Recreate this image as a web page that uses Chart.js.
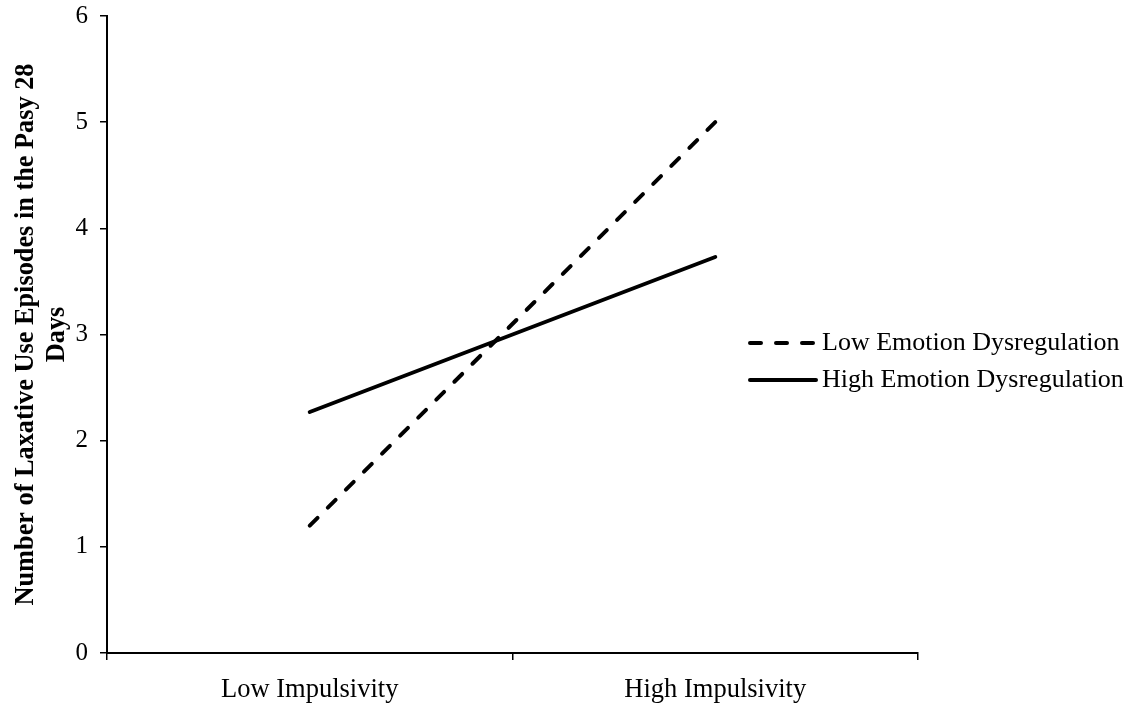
<!DOCTYPE html>
<html>
<head>
<meta charset="utf-8">
<script src="https://cdn.jsdelivr.net/npm/chart.js@4.4.0/dist/chart.umd.min.js"></script>
<style>
  html, body { margin: 0; padding: 0; background: #fff; }
</style>
</head>
<body>
<canvas id="chart" width="1141" height="713"></canvas>
<script>
// values
const categories = ["Low Impulsivity", "High Impulsivity"];
const lowEmotion = [1.2, 5.0];
const highEmotion = [2.27, 3.73];
const seriesNames = ["Low Emotion Dysregulation", "High Emotion Dysregulation"];
const yTitle = ["Number of Laxative Use Episodes in the Pasy 28", "Days"];
const yMin = 0, yMax = 6, yStep = 1;

const serif = "'Liberation Serif', 'Times New Roman', serif";

// legend drawn by hand, it sits over the right edge of the plot
const sideLegend = {
  id: "sideLegend",
  afterDraw(chart) {
    const ctx = chart.ctx;
    const rows = [
      { label: seriesNames[0], dash: [11, 15], y: 343 },
      { label: seriesNames[1], dash: [], y: 380 },
    ];
    ctx.save();
    rows.forEach(r => {
      ctx.beginPath();
      ctx.setLineDash(r.dash);
      ctx.lineWidth = 4;
      ctx.lineCap = "round";
      ctx.strokeStyle = "#000";
      ctx.moveTo(750, r.y);
      ctx.lineTo(816, r.y);
      ctx.stroke();
      ctx.setLineDash([]);
      ctx.fillStyle = "#000";
      ctx.font = "26px " + serif;
      ctx.textBaseline = "middle";
      ctx.textAlign = "left";
      ctx.fillText(r.label, 822, r.y);
    });
    ctx.restore();
  }
};

new Chart(document.getElementById("chart"), {
  type: "line",
  data: {
    labels: categories,
    datasets: [
      {
        label: seriesNames[0],
        data: lowEmotion,
        borderColor: "#000",
        borderWidth: 4,
        borderDash: [11, 14.5],
        borderCapStyle: "round",
        pointRadius: 0,
        fill: false,
      },
      {
        label: seriesNames[1],
        data: highEmotion,
        borderColor: "#000",
        borderWidth: 4,
        borderCapStyle: "round",
        pointRadius: 0,
        fill: false,
      },
    ],
  },
  options: {
    responsive: false,
    animation: false,
    devicePixelRatio: 1,
    layout: { padding: { top: 16, right: 223, left: 0, bottom: 0 } },
    plugins: {
      legend: { display: false },
      tooltip: { enabled: false },
    },
    scales: {
      x: {
        type: "category",
        offset: true,
        grid: { offset: true, drawOnChartArea: false, color: "#000", lineWidth: 1.5, tickLength: 7 },
        border: { display: true, color: "#000", width: 2 },
        ticks: { color: "#000", font: { family: serif, size: 26.5 }, padding: 14, maxRotation: 0 },
        afterFit(s) { s.height = 60; },
      },
      y: {
        min: yMin,
        max: yMax,
        grid: { drawOnChartArea: false, color: "#000", lineWidth: 1.5, tickLength: 7 },
        border: { display: true, color: "#000", width: 2 },
        ticks: { stepSize: yStep, color: "#000", font: { family: serif, size: 25 }, padding: 12 },
        title: {
          display: true,
          text: yTitle,
          color: "#000",
          font: { family: serif, size: 26.3, weight: "bold", lineHeight: 1.2 },
          padding: { top: 10, bottom: 0 },
        },
        afterFit(s) {
          s.width = 107;
          s.paddingTop = 0;
          s.paddingBottom = 0;
        },
      },
    },
  },
  plugins: [sideLegend],
});
</script>
</body>
</html>
